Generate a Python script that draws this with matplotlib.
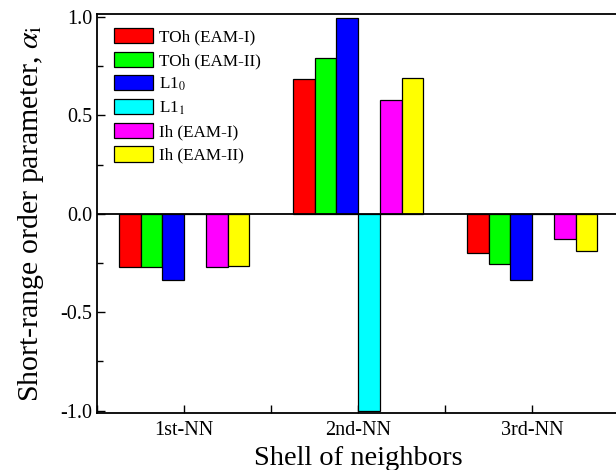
import numpy as np
import matplotlib
matplotlib.use("Agg")
import matplotlib.pyplot as plt
from matplotlib.ticker import MultipleLocator, FuncFormatter

plt.rcParams['font.family'] = ['Liberation Serif', 'DejaVu Serif']
plt.rcParams['mathtext.fontset'] = 'stix'
plt.rcParams['axes.unicode_minus'] = False

shells = ['1st-NN', '2nd-NN', '3rd-NN']
series = ['TOh (EAM-I)', 'TOh (EAM-II)', 'L1$_0$', 'L1$_1$', 'Ih (EAM-I)', 'Ih (EAM-II)']
colors = ['#ff0000', '#00ff00', '#0000ff', '#00ffff', '#ff00ff', '#ffff00']

toh_eam1 = [-0.268, 0.684, -0.198]
toh_eam2 = [-0.272, 0.793, -0.254]
l10 = [-0.335, 0.993, -0.335]
l11 = [0.0, -1.0, 0.0]
ih_eam1 = [-0.272, 0.578, -0.127]
ih_eam2 = [-0.267, 0.688, -0.191]
values = [toh_eam1, toh_eam2, l10, l11, ih_eam1, ih_eam2]

fig = plt.figure(figsize=(6.16, 4.70), dpi=100)
ax = fig.add_axes([0.1575, 0.1213, 1.005 - 0.1575, 0.970 - 0.1213])

x = np.arange(1, len(shells) + 1)
w = 0.125
for i, (vals, lab, col) in enumerate(zip(values, series, colors)):
    ax.bar(x + (i - 2.5) * w, vals, w, color=col, edgecolor='black',
           linewidth=0.9, label=lab, zorder=2)

ax.axhline(0, color='black', lw=1.3, zorder=3)

ax.set_xlim(0.5, 3.5)
ax.set_ylim(-1.012, 1.015)
ax.xaxis.set_major_locator(MultipleLocator(0.5))
ax.xaxis.set_major_formatter(FuncFormatter(
    lambda v, p: shells[int(round(v)) - 1] if abs(v - round(v)) < 1e-6 and 1 <= round(v) <= 3 else ''))
ax.yaxis.set_major_locator(MultipleLocator(0.5))
ax.yaxis.set_minor_locator(MultipleLocator(0.25))
ax.yaxis.set_major_formatter(FuncFormatter(lambda v, p: '%.1f' % v if abs(v) > 1e-9 else '0.0'))

ax.tick_params(axis='both', which='major', direction='in', length=6, width=1, labelsize=14.5)
ax.tick_params(axis='y', which='minor', direction='in', length=4, width=1)
ax.tick_params(axis='x', pad=6)
for s in ax.spines.values():
    s.set_linewidth(1.3)

ax.set_xlabel('Shell of neighbors', fontsize=20.5, labelpad=4)
ax.set_ylabel(r'Short-range order parameter, $\alpha_\mathrm{i}$', fontsize=21.5, labelpad=10)

ax.legend(loc='upper left', bbox_to_anchor=(0.01, 0.995), frameon=False,
          fontsize=12.3, handlelength=2.25, handleheight=1.0, handletextpad=0.35,
          labelspacing=0.35, borderaxespad=0.3)

fig.savefig('out.png', dpi=100)
